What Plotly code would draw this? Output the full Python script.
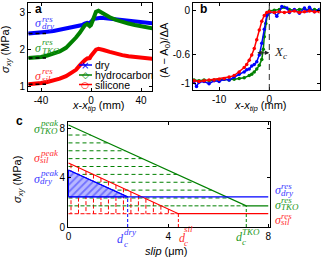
import numpy as np
import plotly.graph_objects as go

W, H = 321, 258
BLUE, GREEN, RED = '#0000ff', '#008000', '#ff0000'
BLUE_T, GREEN_T, RED_T = '#3b3bff', '#1f9a1f', '#ff3030'
SANS = 'Liberation Sans'
SERIF = 'Liberation Serif'

# ---------------- data: panel a (shear stress vs x - x_tip) ----------------
a_x = [-50, -45, -40, -35, -30, -25, -20, -15, -12, -9, -7, -5, -3, -1, 0, 2, 4, 6, 8,
       10, 15, 20, 25, 30, 35, 40, 45, 49]
a_dry = [2.43, 2.44, 2.46, 2.48, 2.50, 2.53, 2.56, 2.59, 2.61, 2.64, 2.66, 2.70, 2.72, 2.71,
         2.76, 2.82, 2.84, 2.86, 2.86, 2.85, 2.83, 2.81, 2.79, 2.77, 2.75, 2.74, 2.72, 2.71]
a_tko = [1.76, 1.77, 1.79, 1.83, 1.88, 1.94, 2.04, 2.20, 2.32, 2.45, 2.56, 2.65, 2.69, 2.63,
         2.66, 2.88, 3.02, 3.05, 3.01, 2.96, 2.87, 2.80, 2.74, 2.70, 2.66, 2.62, 2.59, 2.57]
a_sil = [1.05, 1.06, 1.08, 1.11, 1.15, 1.20, 1.27, 1.36, 1.44, 1.56, 1.64, 1.70, 1.75, 1.76,
         1.82, 1.93, 1.99, 2.01, 2.00, 1.98, 1.93, 1.88, 1.84, 1.81, 1.79, 1.77, 1.75, 1.74]
a_res = [2.43, 1.76, 1.05]
a_res_xend = -36
a_legend = ['dry', 'hydrocarbon', 'silicone']

# ---------------- data: panel b (normalised contact area) ----------------
b_x_red = [-15, -14, -13, -12, -11, -10, -9, -8, -7, -6, -5, -4.5, -4, -3.5, -3, -2.5, -2,
           -1.5, -1, -0.5, 0, 1, 2, 3, 4, 5, 6, 7, 8, 9, 10]
b_red = [-0.96, -0.97, -0.96, -0.95, -0.95, -0.94, -0.93, -0.91, -0.89, -0.84, -0.78, -0.74,
         -0.68, -0.61, -0.52, -0.40, -0.27, -0.15, -0.07, -0.03, -0.02, -0.03, -0.02, -0.03,
         -0.02, -0.01, -0.03, -0.02, -0.01, -0.02, -0.02]
b_x_blue = [-15, -14.5, -14, -13, -12, -11, -10, -9, -8, -7, -6, -5, -4.5, -4, -3.5, -3, -2.5,
            -2, -1.5, -1, -0.5, 0, 1, 1.5, 2, 2.5, 3.5, 4, 5, 6, 7, 7.5, 8, 9, 10]
b_blue = [-0.97, -1.04, -0.98, -0.97, -1.00, -0.96, -0.97, -0.94, -0.95, -0.91, -0.87, -0.84,
          -0.81, -0.80, -0.76, -0.74, -0.70, -0.61, -0.45, -0.26, -0.07, -0.03, -0.03, -0.08,
          -0.02, 0.05, 0.03, -0.03, 0.01, -0.04, 0.03, -0.01, 0.04, -0.02, 0.01]
b_x_green = [-15, -14, -13, -12, -11, -10, -9, -8, -7, -6, -5, -4, -3.5, -3, -2.5, -2, -1.5,
             -1.2, -1, -0.7, -0.4, 0, 1, 2, 3, 4, 5, 6, 7, 8, 9, 10]
b_green = [-0.95, -0.96, -0.95, -0.96, -0.95, -0.95, -0.94, -0.95, -0.94, -0.93, -0.92, -0.89,
           -0.87, -0.84, -0.80, -0.75, -0.67, -0.53, -0.36, -0.18, -0.06, -0.01, 0.00, 0.01,
           0.04, 0.01, 0.00, 0.01, 0.02, 0.00, 0.01, 0.01]
b_front = 0
b_Xc = 2.7
b_arrow_y = -0.58

# ---------------- data: panel c (slip-weakening model) ----------------
c_names = ['dry', 'TKO', 'sil']
c_peak = [4.63, 8.3, 5.2]
c_res = [2.45, 1.72, 1.08]
c_dc = [2.37, 7.12, 4.40]
c_xmax = 8
c_ymin = 0

fig = go.Figure()


def X(p):
    return p / W


def Y(p):
    return 1 - p / H


# ---- panel a traces ----
for ys, col in [(a_dry, BLUE), (a_tko, GREEN), (a_sil, RED)]:
    fig.add_trace(go.Scatter(x=a_x, y=ys, mode='lines', line=dict(color=col, width=4),
                             xaxis='x', yaxis='y'))
for r in a_res:
    fig.add_trace(go.Scatter(x=[a_x[0], a_res_xend], y=[r, r], mode='lines',
                             line=dict(color='black', width=1.5, dash='4px,3px'),
                             xaxis='x', yaxis='y'))

# ---- panel b traces ----
for xs, ys, col in [(b_x_green, b_green, GREEN), (b_x_blue, b_blue, BLUE), (b_x_red, b_red, RED)]:
    fig.add_trace(go.Scatter(x=xs, y=ys, mode='lines+markers', line=dict(color=col, width=1.5),
                             marker=dict(color=col, size=3.5), xaxis='x2', yaxis='y2'))

# ---- panel c traces ----
pk = dict(zip(c_names, c_peak))
rs = dict(zip(c_names, c_res))
dc = dict(zip(c_names, c_dc))

# green horizontal dashed hatch
gx, gy = [], []
step = 0.64
yv = rs['TKO'] + step
while yv < pk['TKO'] - 0.2:
    xe = dc['TKO'] * (pk['TKO'] - yv) / (pk['TKO'] - rs['TKO'])
    gx += [0, xe, None]
    gy += [yv, yv, None]
    yv += step
fig.add_trace(go.Scatter(x=gx, y=gy, mode='lines', line=dict(color=GREEN, width=1, dash='4px,3px'),
                         xaxis='x3', yaxis='y3'))

# red vertical dashed hatch
rx, ry = [], []
xv = 0.1
while xv < dc['sil']:
    yt = rs['sil'] + (pk['sil'] - rs['sil']) * (1 - xv / dc['sil'])
    rx += [xv, xv, None]
    ry += [yt, rs['sil'], None]
    xv += 0.3
fig.add_trace(go.Scatter(x=rx, y=ry, mode='lines', line=dict(color=RED, width=1, dash='4px,2px'),
                         xaxis='x3', yaxis='y3'))

# blue hatched triangle
fig.add_trace(go.Scatter(x=[0, 0, dc['dry'], 0], y=[rs['dry'], pk['dry'], rs['dry'], rs['dry']],
                         mode='lines', fill='toself', line=dict(color=BLUE, width=1),
                         fillcolor='#b3b3ff',
                         fillpattern=dict(shape='/', fgcolor='#2a2aff', bgcolor='#b8b8ff',
                                          size=5, solidity=0.35),
                         xaxis='x3', yaxis='y3'))

for name, col in [('TKO', GREEN), ('sil', RED), ('dry', BLUE)]:
    fig.add_trace(go.Scatter(x=[0, dc[name], c_xmax], y=[pk[name], rs[name], rs[name]],
                             mode='lines', line=dict(color=col, width=1.2), xaxis='x3', yaxis='y3'))
    fig.add_trace(go.Scatter(x=[0, dc[name]], y=[rs[name], rs[name]], mode='lines',
                             line=dict(color=col, width=1, dash='solid' if name == 'dry' else '4px,2px'),
                             xaxis='x3', yaxis='y3'))
    fig.add_trace(go.Scatter(x=[dc[name], dc[name]], y=[c_ymin, rs[name]], mode='lines',
                             line=dict(color=col, width=1, dash='3px,2px'), xaxis='x3', yaxis='y3'))


def axis(domain, rng, anchor, tickvals, ticktext):
    return dict(domain=domain, range=rng, anchor=anchor, showline=True, linecolor='black',
                linewidth=1, mirror='ticks', ticks='inside', ticklen=3, tickcolor='black',
                showgrid=False, zeroline=False, tickmode='array', tickvals=tickvals,
                ticktext=ticktext, automargin=False,
                tickfont=dict(family=SANS, size=10, color='black'))


fig.update_layout(
    width=W, height=H, margin=dict(l=0, r=0, t=0, b=0, autoexpand=False),
    paper_bgcolor='white', plot_bgcolor='white', showlegend=False,
    xaxis=axis([X(28), X(152)], [-50.4, 48.8], 'y', [-40, 0, 40], ['-40', '0', '40']),
    yaxis=axis([Y(91), Y(3)], [0.864, 3.26], 'x', [1, 2, 3], ['1', '2', '3']),
    xaxis2=axis([X(193), X(319.5)], [-15.2, 10], 'y2', [-10, 0, 10], ['-10', '0', '10']),
    yaxis2=axis([Y(90), Y(3)], [-1.086, 0.099], 'x2', [-1, -0.6, 0], ['-1', '-0.6', '0']),
    xaxis3=axis([X(68), X(270)], [-0.02, 8.07], 'y3', [0, 4, 8], ['0', '4', '8']),
    yaxis3=axis([Y(227), Y(122)], [0, 8.54], 'x3', [0, 4, 8], ['0', '4', '8']),
)

fig.add_shape(type='line', xref='x2', yref='y2 domain', x0=b_front, x1=b_front, y0=0, y1=1,
              line=dict(color='#333333', width=1, dash='6px,4px'))
fig.add_annotation(x=b_front, y=b_arrow_y, ax=b_front - b_Xc, ay=b_arrow_y, xref='x2', yref='y2',
                   axref='x2', ayref='y2', text='', showarrow=True, arrowside='end+start',
                   arrowhead=2, arrowsize=0.9, arrowwidth=1, arrowcolor='#222222')


def note(text, x, y, size=10.5, color='black', family=SANS, angle=0, xanchor='center'):
    fig.add_annotation(x=X(x), y=Y(y), xref='paper', yref='paper', text=text, showarrow=False,
                       xanchor=xanchor, yanchor='middle', textangle=angle,
                       font=dict(family=family, size=size, color=color))


def stack(main, sup, sub, xm, ym, xs, ysup, ysub, color, ms=12, ss=9):
    note('<i>%s</i>' % main, xm, ym, ms, color, SERIF, xanchor='left')
    note('<i>%s</i>' % sup, xs, ysup, ss, color, SERIF, xanchor='left')
    note('<i>%s</i>' % sub, xs, ysub, ss, color, SERIF, xanchor='left')


note('<b>a</b>', 38.5, 9, 12)
note('<b>b</b>', 203.5, 9, 12)
note('<b>c</b>', 19.5, 121, 12)

note('<i>σ</i><sub><i>xy</i></sub> (MPa)', 6, 50, 11, angle=-90)
note('<i>x</i>-<i>x</i><sub><i>tip</i></sub> (mm)', 98, 106, 11)
note('(A − A<sub>0</sub>)/ΔA', 165, 50, 11, angle=-90)
note('<i>x</i>-<i>x</i><sub><i>tip</i></sub> (mm)', 260, 106, 11)
note('<i>σ</i><sub><i>xy</i></sub> (MPa)', 18, 180, 11, angle=-90)
note('<i>slip</i> (μm)', 166, 251, 11)
note('<i>X</i><sub><i>c</i></sub>', 272, 52, 13, '#222222', SERIF, xanchor='left')

stack('σ', 'res', 'dry', 33, 23, 40, 19, 26.5, BLUE_T)
stack('σ', 'res', 'TKO', 33, 48, 40, 42, 51, GREEN_T)
stack('σ', 'res', 'sil', 33, 76, 40, 71, 78.5, RED_T)

for (yy, col, glyph, gs), lab in zip([(65, BLUE, '×', 10), (75, GREEN, '◇', 9), (84.5, RED, '○', 9)],
                                     a_legend):
    fig.add_shape(type='line', xref='paper', yref='paper', x0=X(79), x1=X(92), y0=Y(yy), y1=Y(yy),
                  line=dict(color=col, width=1.5))
    note(glyph, 85.5, yy, gs, col, 'DejaVu Sans')
    note(lab, 93, yy, 10.5, xanchor='left')

stack('σ', 'peak', 'TKO', 32, 129, 38, 123.5, 130.5, GREEN_T)
stack('σ', 'peak', 'sil', 32, 158, 38, 152.5, 160, RED_T)
stack('σ', 'peak', 'dry', 32, 179, 38, 172.5, 180.5, BLUE_T)
stack('σ', 'res', 'dry', 273, 189.5, 279, 186, 192.5, BLUE_T)
stack('σ', 'res', 'TKO', 273, 205, 279, 200, 207, GREEN_T)
stack('σ', 'res', 'sil', 273, 219.5, 279, 215.5, 222, RED_T)
stack('d', 'dry', 'c', 115, 239, 122, 232, 244, BLUE_T)
stack('d', 'sil', 'c', 176.5, 238, 182, 228.5, 243, RED_T)
stack('d', 'TKO', 'c', 233.5, 237, 239.5, 231.5, 242, GREEN_T)

fig.write_html('out.html', post_script="document.body.style.margin='0px';",
               config={'displayModeBar': False})
